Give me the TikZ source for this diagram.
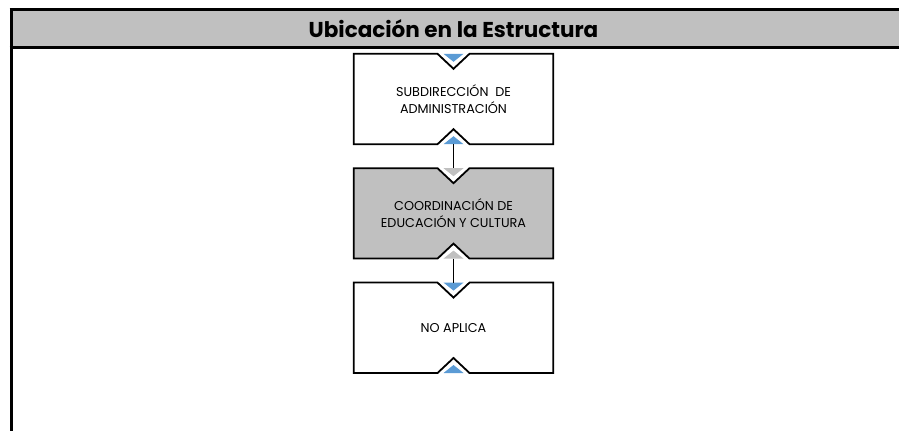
\documentclass[tikz,border=0pt]{standalone}
\usepackage{fontspec}
\setmainfont{Poppins}
\usepackage{tikz}
\usetikzlibrary{positioning,calc,backgrounds}

\definecolor{hdrgray}{HTML}{C0C0C0}
\definecolor{notchblue}{HTML}{5B9BD5}

\tikzset{
  box/.style={minimum width=199pt, minimum height=90pt, align=center,
    font=\fontsize{12.8}{17}\selectfont, inner sep=0pt},
  boxline/.style={line width=1.8pt, line join=miter},
  link/.style={line width=1.8pt}
}

% outline of a box with a notch on top and bottom
\newcommand\notchbox[3]{%
  \draw[boxline, fill=#2] (#1.north west) -- ($(#1.north)+(-16,0)$) -- ($(#1.north)+(0,-15)$)
    -- ($(#1.north)+(16,0)$) -- (#1.north east) -- (#1.south east) -- ($(#1.south)+(16,0)$)
    -- ($(#1.south)+(0,15)$) -- ($(#1.south)+(-16,0)$) -- (#1.south west) -- cycle;
  \fill[#3] ($(#1.north)+(-10,0)$) -- ($(#1.north)+(10,0)$) -- ($(#1.north)+(0,-8)$) -- cycle;
  \fill[#3] ($(#1.south)+(-10,0)$) -- ($(#1.south)+(10,0)$) -- ($(#1.south)+(0,8)$) -- cycle;
}

\begin{document}
\begin{tikzpicture}[x=1pt, y=1pt]
  \useasboundingbox (0,0) rectangle (899,431);
  % Header
  \fill[hdrgray] (11,421) rectangle (899,383);
  \draw[line width=3pt] (9.5,421) -- (899,421);
  \draw[line width=3pt] (9.5,383) -- (899,383);
  \draw[line width=3pt] (11,422.5) -- (11,0);
  \node[font=\fontsize{21.5}{24}\selectfont\bfseries] (title) at (453.5,402) {Ubicación en la Estructura};
  % Boxes
  \node[box] (subdir) at (453.5,332) {SUBDIRECCIÓN\ \ DE\\ADMINISTRACIÓN};
  \node[box, below=24pt of subdir] (coord) {COORDINACIÓN DE\\EDUCACIÓN Y CULTURA};
  \node[box, below=24pt of coord] (noapl) {NO APLICA};
  \begin{pgfonlayer}{background}
    \notchbox{subdir}{white}{notchblue}
    \notchbox{coord}{hdrgray}{hdrgray}
    \notchbox{noapl}{white}{notchblue}
  \end{pgfonlayer}
  % Links
  \draw[link] (subdir.south) -- (coord.north);
  \draw[link] (coord.south) -- (noapl.north);
\end{tikzpicture}
\end{document}
